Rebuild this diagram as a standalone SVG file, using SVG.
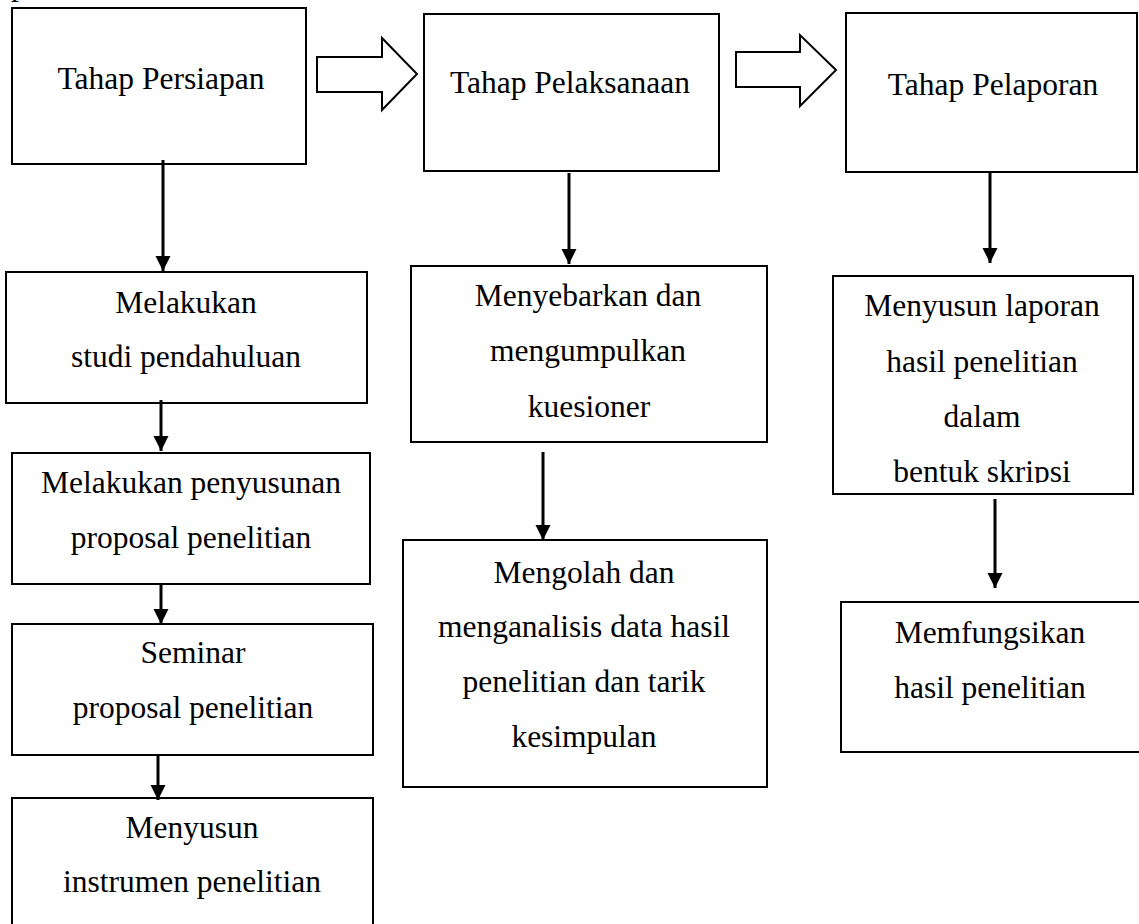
<svg xmlns="http://www.w3.org/2000/svg" width="1139" height="924" viewBox="0 0 1139 924">
<style>
.box{fill:#fff;stroke:#000;stroke-width:2}
.t{font-family:"Liberation Serif","Times New Roman",serif;font-size:31.5px;fill:#000;text-anchor:middle}
.con{stroke:#000;stroke-width:3;fill:none}
.hollow{fill:#fff;stroke:#000;stroke-width:2;stroke-linejoin:miter}
</style>
<defs>
<marker id="ah" markerUnits="userSpaceOnUse" markerWidth="16" markerHeight="16" refX="15" refY="7.5" orient="auto">
<path d="M0,0 L15,7.5 L0,15 Z" fill="#000"/>
</marker>
<clipPath id="clipC2"><rect x="833" y="276" width="300" height="207"/></clipPath>
</defs>
<rect width="1139" height="924" fill="#fff"/>
<text class="t" x="11" y="-5" style="text-anchor:start">p</text>

<g id="A1">
<rect class="box" x="12" y="8" width="294" height="156"/>
<text class="t" x="161" y="89">Tahap Persiapan</text>
</g>
<g id="B1">
<rect class="box" x="424" y="14" width="295" height="157"/>
<text class="t" x="570" y="93">Tahap Pelaksanaan</text>
</g>
<g id="C1">
<rect class="box" x="846" y="13" width="291" height="159"/>
<text class="t" x="993" y="95">Tahap Pelaporan</text>
</g>
<g id="A2">
<rect class="box" x="6" y="272" width="361" height="131"/>
<text class="t" x="186" y="313">Melakukan</text>
<text class="t" x="186" y="367">studi pendahuluan</text>
</g>
<g id="A3">
<rect class="box" x="12" y="453" width="358" height="131"/>
<text class="t" x="191" y="493">Melakukan penyusunan</text>
<text class="t" x="191" y="548">proposal penelitian</text>
</g>
<g id="A4">
<rect class="box" x="12" y="624" width="361" height="131"/>
<text class="t" x="193" y="663">Seminar</text>
<text class="t" x="193" y="718">proposal penelitian</text>
</g>
<g id="A5">
<rect class="box" x="12" y="798" width="361" height="140"/>
<text class="t" x="192" y="838">Menyusun</text>
<text class="t" x="192" y="892">instrumen penelitian</text>
</g>
<g id="B2">
<rect class="box" x="411" y="266" width="356" height="176"/>
<text class="t" x="588" y="306">Menyebarkan dan</text>
<text class="t" x="588" y="361">mengumpulkan</text>
<text class="t" x="589" y="417">kuesioner</text>
</g>
<g id="B3">
<rect class="box" x="403" y="540" width="364" height="247"/>
<text class="t" x="584" y="583">Mengolah dan</text>
<text class="t" x="584" y="637">menganalisis data hasil</text>
<text class="t" x="584" y="692">penelitian dan tarik</text>
<text class="t" x="584" y="747">kesimpulan</text>
</g>
<g id="C2">
<rect class="box" x="833" y="276" width="300" height="218"/>
<text class="t" x="982" y="316">Menyusun laporan</text>
<text class="t" x="982" y="372">hasil penelitian</text>
<text class="t" x="982" y="427">dalam</text>
<text class="t" x="982" y="482" clip-path="url(#clipC2)">bentuk skripsi</text>
</g>
<g id="C3">
<rect class="box" x="841" y="602" width="310" height="150"/>
<text class="t" x="990" y="643">Memfungsikan</text>
<text class="t" x="990" y="698">hasil penelitian</text>
</g>

<g id="connectors">
<polygon class="hollow" points="317,57 382,57 382,38 417,74 382,110 382,92 317,92"/>
<polygon class="hollow" points="736,52 800,52 800,35 836,70 800,106 800,87 736,87"/>
<line class="con" x1="163" y1="160" x2="163" y2="271" marker-end="url(#ah)"/>
<line class="con" x1="161" y1="400" x2="161" y2="451" marker-end="url(#ah)"/>
<line class="con" x1="161" y1="584" x2="161" y2="624" marker-end="url(#ah)"/>
<line class="con" x1="158" y1="755" x2="158" y2="800" marker-end="url(#ah)"/>
<line class="con" x1="569" y1="173" x2="569" y2="264" marker-end="url(#ah)"/>
<line class="con" x1="543" y1="452" x2="543" y2="540" marker-end="url(#ah)"/>
<line class="con" x1="990" y1="173" x2="990" y2="263" marker-end="url(#ah)"/>
<line class="con" x1="995" y1="499" x2="995" y2="588" marker-end="url(#ah)"/>
</g>
</svg>
